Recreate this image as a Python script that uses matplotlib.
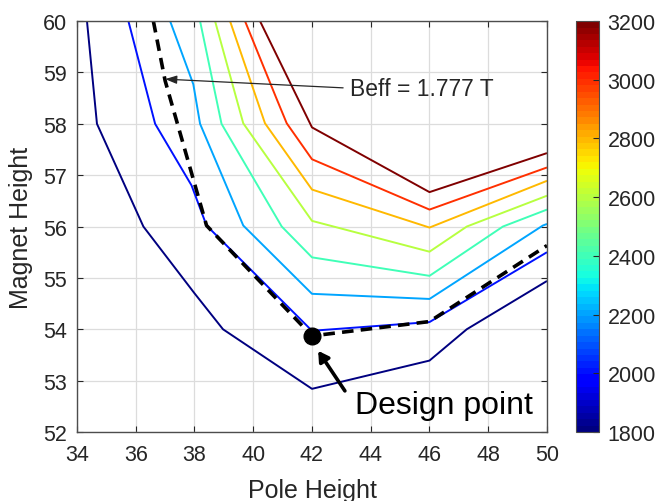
import numpy as np
import matplotlib.pyplot as plt
from matplotlib.collections import LineCollection
from matplotlib.colors import ListedColormap, Normalize
import matplotlib.cm as cm

plt.rcParams['font.family'] = ['Liberation Sans', 'DejaVu Sans']

# contour levels and the traced iso-lines (pole height, magnet height)
levels = [1800, 2000, 2200, 2400, 2600, 2800, 3000, 3200]

pole_1800 = [34.34, 34.68, 36.26, 38.0, 38.97, 42.0, 46.0, 47.27, 50.0]
mag_1800 = [60.0, 58.0, 56.0, 54.7, 54.0, 52.84, 53.39, 54.0, 54.94]

pole_2000 = [35.75, 36.66, 37.9, 38.41, 42.0, 46.0, 50.0]
mag_2000 = [60.0, 58.0, 56.8, 56.02, 53.97, 54.14, 55.5]

pole_2200 = [37.17, 37.96, 38.19, 39.66, 42.0, 46.0, 49.86, 50.0]
mag_2200 = [60.0, 58.77, 58.0, 56.02, 54.69, 54.59, 56.02, 56.05]

pole_2400 = [38.19, 38.92, 40.97, 42.0, 46.0, 48.5, 50.0]
mag_2400 = [60.0, 58.0, 56.0, 55.4, 55.04, 56.0, 56.33]

pole_2600 = [38.7, 39.66, 42.0, 46.0, 47.27, 50.0]
mag_2600 = [60.0, 58.01, 56.11, 55.51, 56.0, 56.6]

pole_2800 = [39.21, 40.4, 42.0, 46.0, 50.0]
mag_2800 = [60.0, 58.01, 56.72, 55.98, 56.89]

pole_3000 = [39.72, 40.8, 41.14, 42.0, 46.0, 50.0]
mag_3000 = [60.0, 58.48, 58.01, 57.31, 56.33, 57.15]

pole_3200 = [40.23, 42.0, 46.0, 50.0]
mag_3200 = [60.0, 57.93, 56.67, 57.43]

# Beff = 1.777 T iso-line
pole_beff = [36.6, 37.0, 38.41, 42.0, 46.0, 50.0]
mag_beff = [60.0, 58.84, 56.02, 53.87, 54.15, 55.63]

design_pole = 42.0
design_mag = 53.87

poles = [pole_1800, pole_2000, pole_2200, pole_2400, pole_2600, pole_2800, pole_3000, pole_3200]
mags = [mag_1800, mag_2000, mag_2200, mag_2400, mag_2600, mag_2800, mag_3000, mag_3200]

jet64 = ListedColormap(plt.cm.jet(np.linspace(0, 1, 64)))
norm = Normalize(1800, 3200)

fig = plt.figure(figsize=(6.58, 5.02), dpi=100)
ax = fig.add_axes([0.117, 0.1375, 0.7143, 0.8185])
cax = fig.add_axes([0.8754, 0.1375, 0.035, 0.8185])

segs = [np.column_stack([p, m]) for p, m in zip(poles, mags)]
lc = LineCollection(segs, cmap=jet64, norm=norm, linewidths=1.4)
lc.set_array(np.array(levels))
ax.add_collection(lc)

ax.plot(pole_beff, mag_beff, color='black', lw=2.6, ls=(0, (3.2, 2.0)))
ax.plot(design_pole, design_mag, 'o', color='black', ms=12)

ax.set_xlim(34, 50)
ax.set_ylim(52, 60)
ax.set_xticks(np.arange(34, 51, 2))
ax.set_yticks(np.arange(52, 61, 1))
ax.grid(True, color='#dcdcdc', lw=0.9)
ax.set_axisbelow(True)
ax.tick_params(direction='in', top=True, right=True, labelsize=15.5,
               colors='#262626', length=4)
ax.tick_params(axis='x', pad=9)
ax.tick_params(axis='y', pad=7)
for s in ax.spines.values():
    s.set_color('#4d4d4d')
    s.set_linewidth(1.0)
ax.set_xlabel('Pole Height', fontsize=18, color='#262626', labelpad=9)
ax.set_ylabel('Magnet Height', fontsize=18, color='#262626', labelpad=7)

# Beff label with thin arrow to the dashed line
ax.annotate('', xy=(37.0, 58.87), xytext=(43.06, 58.70),
            arrowprops=dict(arrowstyle='-|>,head_length=0.7,head_width=0.25',
                            color='#262626', lw=0.9, shrinkA=0, shrinkB=0))
ax.text(43.3, 58.68, 'Beff = 1.777 T', fontsize=16.5, color='#262626',
        va='center', ha='left')

# design point label with thick arrow
ax.annotate('', xy=(42.21, 53.58), xytext=(43.12, 52.8),
            arrowprops=dict(arrowstyle='-|>,head_length=0.6,head_width=0.35',
                            color='black', lw=2.6, shrinkA=0, shrinkB=0))
ax.text(43.46, 52.52, 'Design point', fontsize=23, color='black',
        va='center', ha='left')

sm = cm.ScalarMappable(norm=norm, cmap=jet64)
cb = fig.colorbar(sm, cax=cax, ticks=np.arange(1800, 3201, 200))
cb.ax.tick_params(direction='in', labelsize=15.5, colors='#262626', length=4, pad=6)
cb.outline.set_edgecolor('#4d4d4d')

fig.savefig('out.png', dpi=100)
